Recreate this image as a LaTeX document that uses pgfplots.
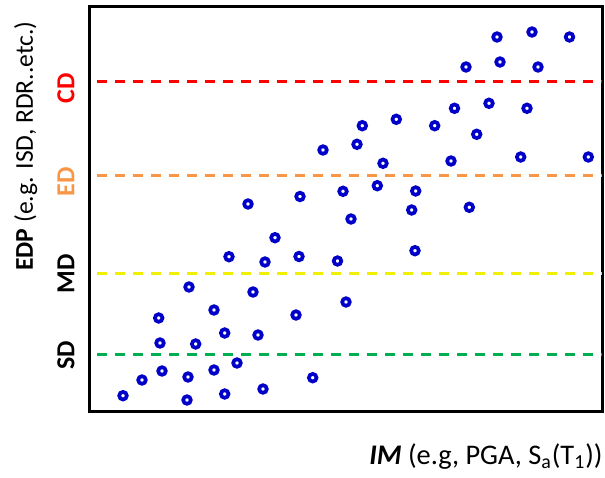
\documentclass[border=0pt]{standalone}
\usepackage{pgfplots}
\pgfplotsset{compat=1.18}
\usepackage{fontspec}
\setmainfont{Carlito}
\definecolor{cdred}{RGB}{255,0,0}
\definecolor{edorange}{RGB}{247,150,70}
\definecolor{mdyellow}{RGB}{240,240,0}
\definecolor{sdgreen}{RGB}{0,176,80}
\definecolor{ptblue}{RGB}{0,0,200}
\begin{document}
\begin{tikzpicture}
\useasboundingbox (-44.5pt,-33pt) rectangle (258pt,205.5pt);
\begin{axis}[
  scale only axis,
  width=256.5pt, height=202pt,
  xmin=0, xmax=513, ymin=0, ymax=404,
  xtick=\empty, ytick=\empty,
  axis line style={line width=1.5pt, black},
  clip=false,
]
\addplot[cdred, line width=1.5pt, dash pattern=on 5pt off 4pt, forget plot] coordinates {(8,329) (513,329)};
\addplot[edorange, line width=1.5pt, dash pattern=on 5pt off 4pt, forget plot] coordinates {(8,236) (513,236)};
\addplot[mdyellow, line width=1.5pt, dash pattern=on 5pt off 4pt, forget plot] coordinates {(8,137.5) (513,137.5)};
\addplot[sdgreen, line width=1.5pt, dash pattern=on 5pt off 4pt, forget plot] coordinates {(8,56.5) (513,56.5)};
\addplot[only marks, mark=o, mark size=1.9pt, mark options={ptblue, line width=1.85pt}] coordinates {
(34,15.3) (53,31) (73,40) (71,68) (69.7,93) (99,34) (98,11) (106.7,67) (100,124)
(125,41) (125,101) (135.7,17) (135.7,78) (148,48) (140,154.3) (164,119) (169,76)
(174,22) (176,149) (186,173.3) (159,207) (207,96) (210,154.5) (211,214.5) (223.7,33.3)
(234,261) (248.5,150) (257,109) (262,192) (254,219.7) (268,266.7) (273.3,285.3)
(288.3,225.3) (294,247.7) (307.3,291.7) (322.7,201) (326.7,220) (326,160.3)
(345.7,285.3) (362,250) (365.5,302.7) (380.3,203.7) (377,344) (387.7,276.7)
(400,307.7) (408,374) (411,349) (431.7,254) (438,302.7) (449,344) (443,379)
(480.5,374) (499.3,254)
};
\node[rotate=90, anchor=base, inner sep=0pt, font=\fontsize{12.8}{14}\selectfont] at (axis cs:-56,265) {\textbf{EDP} (e.g. ISD, RDR..etc.)};
\node[rotate=90, anchor=base, inner sep=0pt, font=\fontsize{13}{14}\selectfont\bfseries] at (axis cs:-14.7,56) {SD};
\node[rotate=90, anchor=base, inner sep=0pt, font=\fontsize{13}{14}\selectfont\bfseries] at (axis cs:-14.7,137) {MD};
\node[rotate=90, anchor=base, inner sep=0pt, font=\fontsize{13}{14}\selectfont\bfseries, text=edorange] at (axis cs:-14.7,229) {ED};
\node[rotate=90, anchor=base, inner sep=0pt, font=\fontsize{13}{14}\selectfont\bfseries, text=cdred] at (axis cs:-14.7,323) {CD};
\node[anchor=base east, font=\fontsize{14.2}{16}\selectfont, inner sep=0pt] at (axis cs:514,-53) {\textbf{\textit{IM}} (e.g, PGA, S\textsubscript{a}(T\textsubscript{1}))};
\end{axis}
\end{tikzpicture}
\end{document}
